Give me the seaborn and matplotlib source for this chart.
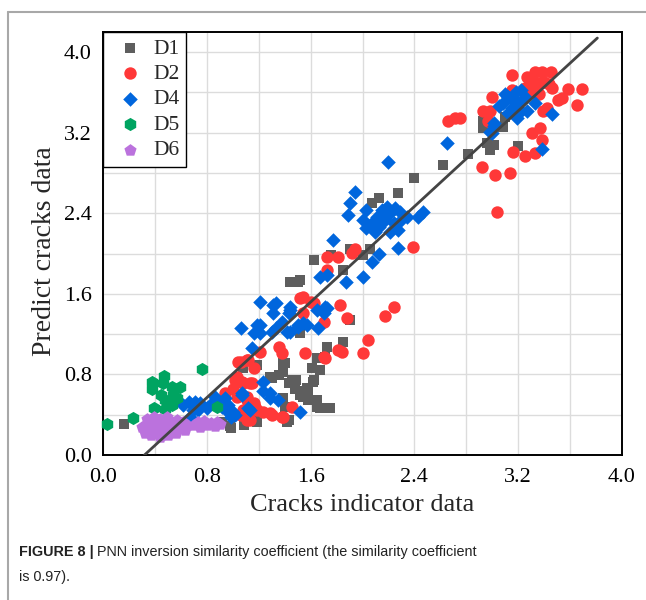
import numpy as np
import pandas as pd
import matplotlib
matplotlib.use("Agg")
import matplotlib.pyplot as plt
import seaborn as sns
from matplotlib.lines import Line2D
from matplotlib.ticker import MultipleLocator

# ---------------- data ----------------
d1_x = [0.16, 0.98, 0.92, 1.09, 1.19, 1.42, 0.99, 1.16, 1.21, 1.43,
        1.08, 1.16, 1.19, 1.29, 1.30, 1.36, 1.39, 1.39, 1.40, 1.43, 1.46, 1.48, 1.49, 1.52, 1.52,
        1.54, 1.57, 1.58, 1.58, 1.62, 1.63, 1.65, 1.65, 1.67, 1.75, 1.39, 1.40, 1.61, 1.67, 1.65,
        1.71, 1.73, 1.85, 1.52, 1.90,
        1.44, 1.50, 1.52, 1.63, 1.76, 1.85, 1.90, 2.00, 2.06, 2.07, 2.13, 2.27, 2.40, 2.62, 2.81,
        2.93, 2.98, 3.01, 2.96, 3.08, 3.10, 3.20, 2.93]
d1_y = [0.31, 0.29, 0.33, 0.30, 0.33, 0.33, 0.27, 0.35, 0.42, 0.35,
        0.86, 0.89, 0.89, 0.77, 0.76, 0.79, 0.91, 0.82, 0.91, 0.71, 0.74, 0.66, 0.74, 0.64, 0.60,
        0.58, 0.67, 0.65, 0.55, 0.72, 0.74, 0.55, 0.48, 0.47, 0.47, 0.57, 0.48, 0.86, 0.84, 0.96,
        0.97, 1.07, 1.12, 1.21, 1.34,
        1.72, 1.72, 1.74, 1.94, 1.99, 1.84, 2.05, 1.99, 2.05, 2.50, 2.55, 2.60, 2.75, 2.88, 2.99,
        3.25, 3.03, 3.08, 3.10, 3.26, 3.36, 3.07, 3.32]

d2_x = [0.94, 1.00, 1.02, 1.03, 1.04, 1.06, 1.07, 1.08, 1.11, 1.12, 1.13, 1.15, 1.16, 1.21, 1.11,
        1.11, 1.03, 1.16, 1.17, 1.19, 1.08, 1.06, 1.11, 1.13, 1.23, 1.29, 1.30, 1.38, 1.39, 1.46,
        1.36, 1.38, 1.56, 1.70, 1.71, 1.81, 1.84, 1.52, 1.54, 1.60, 1.63, 1.54, 1.70, 1.83, 1.88,
        1.73, 1.81, 1.92, 1.94, 1.73, 2.39, 2.24, 2.17, 2.04, 2.00,
        2.66, 2.71, 2.75, 2.92, 3.02, 3.14, 3.04, 3.16, 3.25, 3.33, 3.31, 3.37, 3.38, 2.93, 2.98,
        2.97, 3.00, 3.15, 3.27, 3.33, 3.38, 3.45, 3.28, 3.35, 3.25, 3.46, 3.58, 3.69, 3.51, 3.54,
        3.65, 3.39, 3.42, 3.15, 3.30, 3.40, 3.36, 3.30, 3.44]
d2_y = [0.62, 0.66, 0.74, 0.77, 0.92, 0.92, 0.72, 0.71, 0.94, 0.94, 0.71, 0.71, 0.86, 1.02, 0.58,
        0.55, 0.58, 0.52, 0.48, 0.45, 0.45, 0.40, 0.35, 0.35, 0.43, 0.42, 0.40, 0.38, 0.38, 0.48,
        1.07, 1.01, 1.01, 0.97, 0.96, 1.04, 1.02, 1.56, 1.57, 1.52, 1.51, 1.41, 1.32, 1.49, 1.36,
        1.97, 1.97, 2.01, 2.05, 1.84, 2.07, 1.47, 1.38, 1.14, 1.01,
        3.32, 3.35, 3.35, 2.86, 2.78, 2.80, 2.41, 3.01, 2.97, 3.00, 3.20, 3.25, 3.13, 3.42, 3.42,
        3.32, 3.55, 3.77, 3.75, 3.80, 3.80, 3.80, 3.67, 3.69, 3.64, 3.64, 3.63, 3.63, 3.52, 3.54,
        3.48, 3.42, 3.45, 3.62, 3.72, 3.70, 3.58, 3.60, 3.68]

d4_x = [0.62, 0.66, 0.71, 0.75, 0.69, 0.73, 0.67, 0.80, 0.84, 0.86, 0.89, 0.92, 0.94, 0.96, 0.96,
        0.99, 1.00, 1.02, 1.07, 1.07, 1.12, 1.13, 1.23, 1.23, 1.29, 1.29, 1.35, 1.52,
        1.06, 1.15, 1.16, 1.19, 1.21, 1.21, 1.21, 1.30, 1.31, 1.31, 1.33, 1.33, 1.38, 1.42, 1.43,
        1.44, 1.44, 1.44, 1.50, 1.50, 1.54, 1.57, 1.65, 1.66, 1.70, 1.71, 1.73,
        1.67, 1.73, 1.77, 1.87, 1.89, 1.90, 1.94, 2.00, 2.07, 2.13, 2.27, 2.00, 2.03, 2.03, 2.07,
        2.11, 2.15, 2.19, 2.21, 2.25, 2.29, 2.30, 2.24, 2.17, 2.13, 2.10, 2.21, 2.27, 2.34, 2.43,
        2.47, 2.20, 2.65,
        3.01, 3.00, 2.98, 3.01, 3.19, 3.27, 3.33, 3.46, 3.38, 3.08, 3.12, 3.15, 3.18, 3.20, 3.22,
        3.12, 3.25, 3.10, 3.16, 3.22, 3.05]
d4_y = [0.50, 0.53, 0.53, 0.52, 0.45, 0.45, 0.38, 0.47, 0.52, 0.58, 0.53, 0.48, 0.57, 0.50, 0.43,
        0.38, 0.43, 0.40, 0.60, 0.62, 0.47, 0.45, 0.72, 0.64, 0.57, 0.62, 0.55, 0.43,
        1.26, 1.06, 1.21, 1.29, 1.29, 1.52, 1.21, 1.22, 1.49, 1.41, 1.26, 1.51, 1.32, 1.22, 1.41,
        1.44, 1.47, 1.22, 1.27, 1.29, 1.31, 1.29, 1.44, 1.26, 1.41, 1.47, 1.46,
        1.77, 1.79, 2.13, 1.72, 2.38, 2.50, 2.61, 1.77, 1.92, 2.00, 2.06, 2.33, 2.25, 2.43, 2.30,
        2.36, 2.43, 2.46, 2.40, 2.45, 2.41, 2.33, 2.30, 2.33, 2.26, 2.21, 2.21, 2.23, 2.36, 2.36,
        2.41, 2.91, 3.10,
        3.30, 3.20, 3.21, 3.27, 3.35, 3.42, 3.50, 3.39, 3.04, 3.50, 3.55, 3.45, 3.60, 3.50, 3.42,
        3.40, 3.55, 3.58, 3.52, 3.62, 3.47]

d5_x = [0.03, 0.23, 0.38, 0.47, 0.46, 0.53, 0.59, 0.38, 0.54, 0.57, 0.48, 0.45, 0.39, 0.48,
        0.53, 0.76, 0.88]
d5_y = [0.31, 0.37, 0.72, 0.78, 0.71, 0.68, 0.68, 0.66, 0.60, 0.57, 0.55, 0.60, 0.47, 0.46,
        0.50, 0.85, 0.48]

d6_x = [0.30, 0.32, 0.33, 0.35, 0.36, 0.37, 0.38, 0.40, 0.40, 0.42, 0.43, 0.44, 0.45, 0.46,
        0.47, 0.48, 0.50, 0.50, 0.52, 0.53, 0.55, 0.56, 0.58, 0.60, 0.62, 0.63, 0.65, 0.34, 0.39,
        0.44, 0.57, 0.49,
        0.70, 0.73, 0.75, 0.78, 0.80, 0.83, 0.86, 0.88, 0.90]
d6_y = [0.28, 0.22, 0.30, 0.25, 0.33, 0.20, 0.27, 0.35, 0.22, 0.30, 0.25, 0.36, 0.20, 0.28,
        0.32, 0.24, 0.30, 0.20, 0.34, 0.26, 0.30, 0.22, 0.32, 0.27, 0.33, 0.25, 0.30, 0.36, 0.38,
        0.18, 0.35, 0.38,
        0.30, 0.33, 0.28, 0.34, 0.30, 0.32, 0.29, 0.33, 0.31]

fit_x = [0.32, 3.81]
fit_y = [0.0, 4.14]

series = ["D1", "D2", "D4", "D5", "D6"]
xticks = [0.0, 0.8, 1.6, 2.4, 3.2, 4.0]
yticks = [0.0, 0.8, 1.6, 2.4, 3.2, 4.0]

# ---------------- figure ----------------
sns.set_style("white")
plt.rcParams["font.family"] = ["Liberation Serif", "DejaVu Serif"]

fig = plt.figure(figsize=(6.46, 6.0), dpi=100)
ax = fig.add_axes([103/646, 145/600, 519/646, 423/600])

frames = [
    pd.DataFrame({"x": d1_x, "y": d1_y, "g": "D1"}),
    pd.DataFrame({"x": d2_x, "y": d2_y, "g": "D2"}),
    pd.DataFrame({"x": d4_x, "y": d4_y, "g": "D4"}),
    pd.DataFrame({"x": d5_x, "y": d5_y, "g": "D5"}),
    pd.DataFrame({"x": d6_x, "y": d6_y, "g": "D6"}),
]
styles = {
    "D1": dict(marker="s", color="#5e5e5e", s=60),
    "D2": dict(marker="o", color="#ff3838", s=80),
    "D4": dict(marker="D", color="#0066dd", s=55),
    "D5": dict(marker="h", color="#00a461", s=90),
    "D6": dict(marker="p", color="#bb72dd", s=85),
}
for df in frames:
    name = df["g"].iloc[0]
    st = styles[name]
    sns.scatterplot(data=df, x="x", y="y", ax=ax, marker=st["marker"], color=st["color"],
                    s=st["s"], linewidth=0, label=name, zorder=3, clip_on=False)

ax.plot(fit_x, fit_y, color="#444444", lw=2.0, zorder=5)

ax.set_xlim(0, 4.0)
ax.set_ylim(0, 4.2)
ax.set_xticks(xticks)
ax.set_yticks(yticks)
ax.set_xticklabels([f"{v:.1f}" for v in xticks])
ax.set_yticklabels([f"{v:.1f}" for v in yticks])
ax.xaxis.set_minor_locator(MultipleLocator(0.4))
ax.yaxis.set_minor_locator(MultipleLocator(0.4))
ax.grid(True, which="both", color="#dcdcdc", lw=1.0, zorder=0)
ax.set_axisbelow(True)
ax.tick_params(axis="both", which="major", direction="inout", length=8, width=1.2,
               labelsize=16, colors="black", top=False, right=False)
ax.tick_params(axis="x", which="major", pad=5)
ax.tick_params(axis="y", which="major", pad=4)
ax.tick_params(axis="both", which="minor", direction="out", length=4, width=1.2,
               top=False, right=False)
for sp in ax.spines.values():
    sp.set_color("black")
    sp.set_linewidth(1.4)

ax.set_xlabel("Cracks indicator data", fontsize=19)
ax.set_ylabel("Predict cracks data", fontsize=20)
ax.xaxis.set_label_coords(0.5, -0.093)
ax.yaxis.set_label_coords(-0.089, 0.483)

leg = ax.legend(loc="upper left", frameon=True, fancybox=False, borderaxespad=0,
                fontsize=15.5, handletextpad=0.15, labelspacing=0.25, borderpad=0.3,
                handlelength=1.9, markerscale=1.0)
leg.get_frame().set_edgecolor("black")
leg.get_frame().set_linewidth(1.0)
leg.get_frame().set_alpha(1)

# journal panel border
fig.add_artist(Line2D([8/646, 8/646], [0, 588/600], transform=fig.transFigure,
                      color="#a8a8a8", lw=1.5))
fig.add_artist(Line2D([8/646, 1], [588/600, 588/600], transform=fig.transFigure,
                      color="#a8a8a8", lw=1.5))

# caption
cap_font = ["Liberation Sans", "DejaVu Sans"]
t1 = fig.text(19/646, 1 - 552/600, "FIGURE 8 |", fontsize=10.4, fontweight="bold",
              family=cap_font, va="center", ha="left", color="#222222")
fig.canvas.draw()
r = fig.canvas.get_renderer()
bb = t1.get_window_extent(r)
fig.text(bb.x1/646 + 3/646, 1 - 552/600,
         "PNN inversion similarity coefficient (the similarity coefficient",
         fontsize=10.4, family=cap_font, va="center", ha="left", color="#222222")
fig.text(19/646, 1 - 577/600, "is 0.97).", fontsize=10.4, family=cap_font,
         va="center", ha="left", color="#222222")

fig.savefig("out.png", dpi=100)
